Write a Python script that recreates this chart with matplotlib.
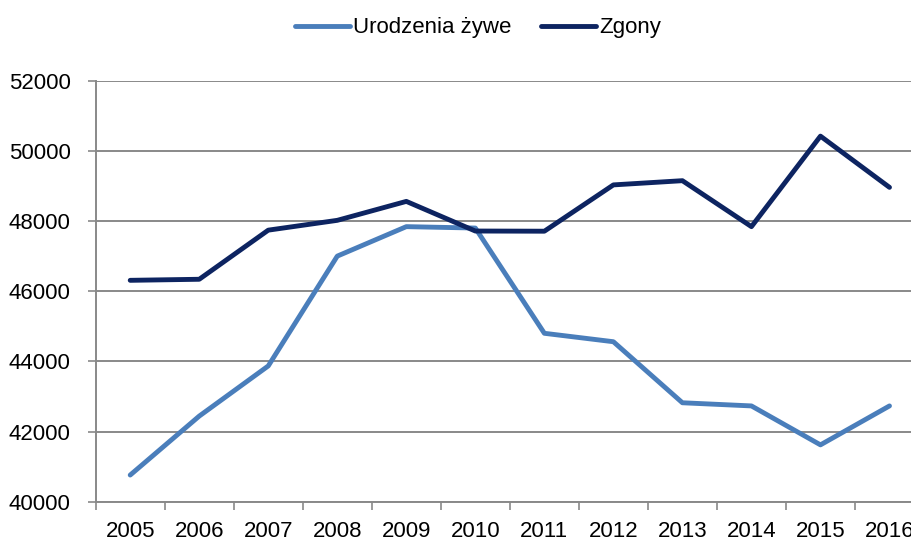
import matplotlib
matplotlib.use("Agg")
import matplotlib.pyplot as plt
import numpy as np

years = ["2005", "2006", "2007", "2008", "2009", "2010", "2011", "2012", "2013", "2014", "2015", "2016"]
urodzenia = [40760, 42440, 43870, 47000, 47840, 47800, 44800, 44560, 42820, 42730, 41620, 42730]
zgony = [46310, 46340, 47740, 48020, 48560, 47715, 47710, 49030, 49150, 47840, 50420, 48960]
yticks = [40000, 42000, 44000, 46000, 48000, 50000, 52000]

plt.rcParams['font.family'] = ['Liberation Sans', 'DejaVu Sans']

fig = plt.figure(figsize=(9.12, 5.44), dpi=100)
ax = fig.add_axes([95.7/912, 1-501.7/544, (924-95.7)/912, (501.7-80.7)/544])

x = np.arange(len(years))
l1, = ax.plot(x, urodzenia, color='#4A7EBB', lw=3.5, solid_capstyle='round', label='Urodzenia żywe', clip_on=False)
l2, = ax.plot(x, zgony, color='#0D2461', lw=3.5, solid_capstyle='round', label='Zgony', clip_on=False)

ax.set_xlim(-0.5, len(years) - 0.5)
ax.set_ylim(40000, 52000)
ax.set_yticks(yticks)
ax.set_yticklabels([str(v) for v in yticks], fontsize=16)
ax.set_xticks(x)
ax.set_xticklabels(years, fontsize=16)
ax.set_xticks(np.arange(-0.5, len(years)), minor=True)
ax.tick_params(axis='x', which='major', length=0, pad=14)
ax.tick_params(axis='x', which='minor', length=6, width=1.2, color='#898989')
ax.tick_params(axis='y', which='major', length=6, width=1.2, color='#898989', pad=12)

ax.yaxis.grid(True, color='#898989', lw=1.4)
ax.set_axisbelow(True)
for s in ['top', 'right']:
    ax.spines[s].set_visible(False)
for s in ['left', 'bottom']:
    ax.spines[s].set_color('#898989')
    ax.spines[s].set_linewidth(1.4)

fig.legend(handles=[l1, l2], loc='center', bbox_to_anchor=(478/912, 1-28/544), ncol=2,
           frameon=False, fontsize=16, handlelength=2.5, handletextpad=0.15, columnspacing=1.3)

fig.savefig('out.png', dpi=100)
